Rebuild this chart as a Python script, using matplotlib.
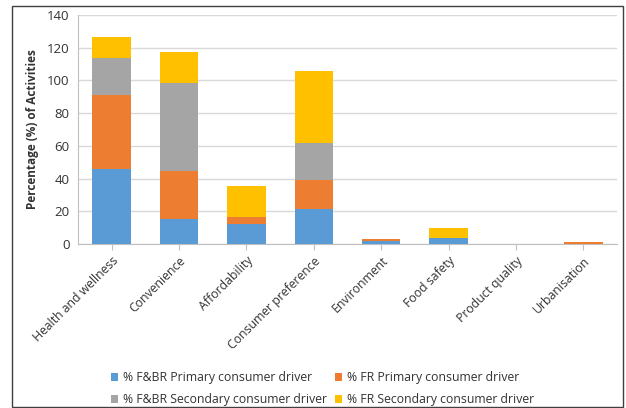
import numpy as np
import matplotlib.pyplot as plt
from matplotlib.patches import Rectangle

categories = ['Health and wellness', 'Convenience', 'Affordability', 'Consumer preference',
              'Environment', 'Food safety', 'Product quality', 'Urbanisation']

fbr_primary = [46, 15.5, 12.5, 21.5, 2, 3.5, 0, 0]
fr_primary = [45, 29, 4, 17.5, 1, 0, 0, 1.5]
fbr_secondary = [23, 54, 0, 23, 0, 0, 0, 0]
fr_secondary = [12.5, 19, 19, 44, 0, 6, 0, 0]

series = [fbr_primary, fr_primary, fbr_secondary, fr_secondary]
labels = ['% F&BR Primary consumer driver', '% FR Primary consumer driver',
          '% F&BR Secondary consumer driver', '% FR Secondary consumer driver']
colors = ['#5B9BD5', '#ED7D31', '#A5A5A5', '#FFC000']

plt.rcParams['font.family'] = ['Open Sans', 'DejaVu Sans']

fig = plt.figure(figsize=(6.26, 4.08), dpi=100)
ax = fig.add_axes([78/626, 1 - 244/408, (617-78)/626, (244-15)/408])

x = np.arange(len(categories))
bottom = np.zeros(len(categories))
bars = []
for vals, lab, col in zip(series, labels, colors):
    b = ax.bar(x, vals, 0.57, bottom=bottom, color=col, label=lab, linewidth=0, zorder=3)
    bars.append(b)
    bottom += np.array(vals)

ax.set_xlim(-0.5, len(categories) - 0.5)
ax.set_ylim(0, 140)
ax.set_yticks(range(0, 141, 20))
ax.yaxis.grid(True, color='#D9D9D9', linewidth=1, zorder=0)
ax.tick_params(axis='y', length=0, labelsize=9.5, colors='#333333', pad=6)
ax.set_xticks(x)
ax.set_xticklabels(categories, rotation=45, ha='right', rotation_mode='anchor', fontsize=8.8, color='#333333')
ax.tick_params(axis='x', length=4, color='#BFBFBF')
for s in ['top', 'right']:
    ax.spines[s].set_visible(False)
for s in ['left', 'bottom']:
    ax.spines[s].set_color('#BFBFBF')

ax.set_ylabel('Percentage (%) of Activities', fontsize=8.5, fontweight='bold', color='#333333', labelpad=6)

# legend filled row by row like the original
order = [0, 2, 1, 3]
ax.legend([bars[i] for i in order], [labels[i] for i in order],
          loc='upper left', bbox_to_anchor=(100/626, 1 - 360/408), bbox_transform=fig.transFigure,
          ncol=2, frameon=False, fontsize=8.8, handlelength=0.6, handleheight=0.6,
          handletextpad=0.4, columnspacing=0.6, labelspacing=0.75, labelcolor='#333333')

fig.patches.append(Rectangle((12/626, 0.003), 0.995 - 12/626, 1 - 6/408 - 0.003, transform=fig.transFigure,
                             fill=False, edgecolor='#404040', linewidth=1))

fig.savefig('out.png', dpi=100)
